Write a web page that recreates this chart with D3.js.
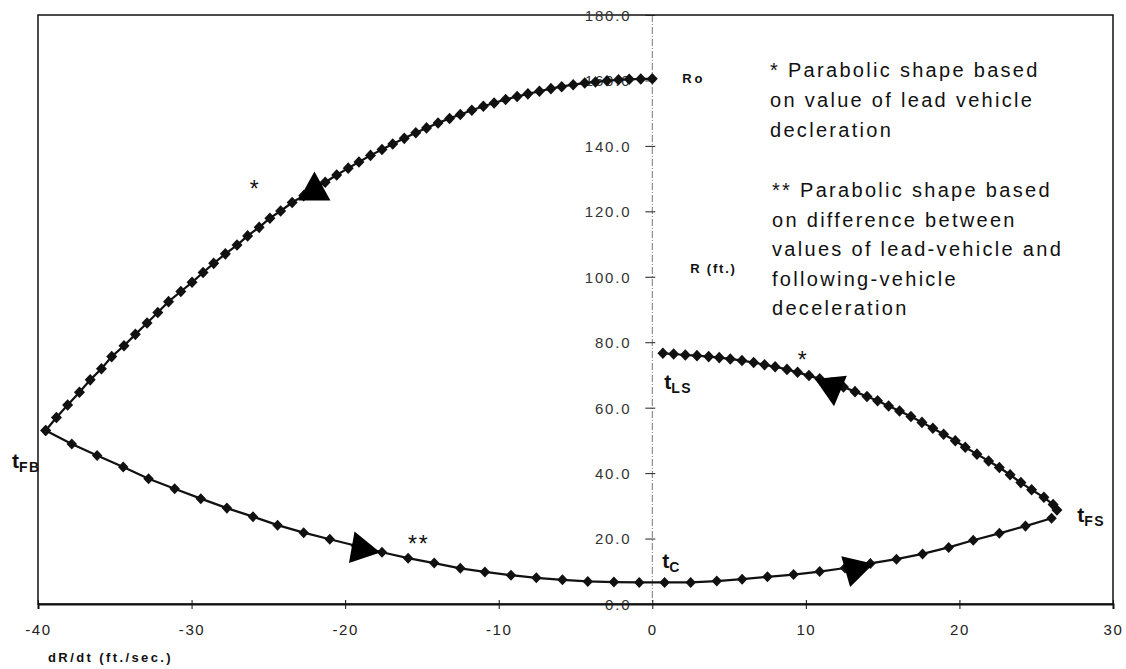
<!DOCTYPE html>
<html>
<head>
<meta charset="utf-8">
<script src="https://cdn.jsdelivr.net/npm/d3@7"></script>
<style>
  html, body { margin: 0; padding: 0; background: #fff; }
  svg { display: block; font-family: "Liberation Sans", Arial, sans-serif; }
</style>
</head>
<body>
<svg id="chart" width="1126" height="669"></svg>
<script>
// ---------- data ----------
const xTicks = [-40, -30, -20, -10, 0, 10, 20, 30];
const yTicks = [0, 20, 40, 60, 80, 100, 120, 140, 160, 180];

// "*" branch: lead-vehicle deceleration, from t_FB up to Ro
const upperLeftX = [-39.5, -38.8, -38.07, -37.3, -36.6, -35.87, -35.2, -34.4, -33.66, -32.9,
  -32.2, -31.5, -30.7, -29.97, -29.25, -28.56, -27.8, -27.04, -26.35, -25.6,
  -24.9, -24.2, -23.45, -22.7, -22.0, -21.3, -20.55, -19.8, -19.1, -18.35,
  -17.6, -16.9, -16.15, -15.4, -14.7, -13.95, -13.2, -12.5, -11.75, -11.0,
  -10.3, -9.55, -8.8, -8.1, -7.35, -6.6, -5.9, -5.15, -4.4, -3.7,
  -2.95, -2.2, -1.5, -0.75, 0];
const upperLeftR = [53.0, 57.0, 60.8, 64.7, 68.5, 71.9, 75.6, 78.9, 82.4, 85.9,
  89.1, 92.4, 95.5, 98.3, 101.3, 104.1, 107.0, 109.7, 112.5, 115.1,
  117.9, 120.1, 122.7, 124.8, 126.8, 128.9, 131.1, 133.2, 135.1, 137.1,
  138.9, 140.6, 142.3, 144.0, 145.5, 147.0, 148.4, 149.6, 150.9, 152.1,
  153.1, 154.2, 155.1, 155.9, 156.7, 157.5, 158.1, 158.7, 159.2, 159.55,
  159.9, 160.2, 160.35, 160.45, 160.5];

// "**" branch: difference of decelerations, t_FB -> t_C -> t_FS
const lowerX = [-39.5, -37.8, -36.15, -34.45, -32.8, -31.1, -29.4, -27.7, -26.0, -24.4,
  -22.7, -21.0, -19.3, -17.6, -15.9, -14.2, -12.5, -10.9, -9.2, -7.55,
  -5.85, -4.2, -2.5, -0.85, 0.8, 2.5, 4.2, 5.85, 7.5, 9.2,
  10.9, 12.55, 14.2, 15.9, 17.6, 19.3, 20.9, 22.6, 24.3, 26.0];
const lowerR = [53.0, 48.9, 45.4, 41.9, 38.3, 35.2, 32.2, 29.3, 26.7, 24.1,
  21.8, 19.8, 17.8, 15.8, 14.0, 12.5, 10.9, 9.8, 8.8, 8.0,
  7.4, 6.9, 6.7, 6.6, 6.6, 6.6, 7.0, 7.6, 8.3, 9.0,
  9.9, 11.0, 12.4, 13.7, 15.3, 17.3, 19.5, 21.6, 23.8, 26.2];

// "*" branch: lead-vehicle deceleration, t_LS to t_FS
const upperRightX = [0.69, 1.39, 2.15, 2.91, 3.67, 4.36, 5.08, 5.84, 6.6, 7.31,
  8.0, 8.77, 9.46, 10.2, 10.9, 11.7, 12.45, 13.2, 13.98, 14.67,
  15.39, 16.1, 16.84, 17.56, 18.27, 18.97, 19.73, 20.38, 21.14, 21.9,
  22.6, 23.3, 24.0, 24.7, 25.5, 26.1, 26.35];
const upperRightR = [76.6, 76.4, 76.1, 75.9, 75.6, 75.3, 74.9, 74.4, 73.8, 73.1,
  72.5, 71.7, 70.8, 69.8, 68.8, 67.6, 66.3, 64.9, 63.4, 62.1,
  60.5, 59.0, 57.3, 55.5, 53.7, 51.9, 49.9, 47.9, 45.8, 43.7,
  41.7, 39.5, 37.1, 34.9, 32.6, 30.4, 28.7];

// direction arrows (position in data units)
const arrowX = [-22.0, -18.95, 13.2, 11.7];
const arrowR = [126.3, 16.8, 10.7, 66.3];

// point labels (t symbols) in data units
const pointLabelMain = ["t", "t", "t", "t"];
const pointLabelSub = ["FB", "LS", "C", "FS"];
const pointLabelX = [-41.7, 0.78, 0.65, 27.67];
const pointLabelR = [41.6, 65.7, 11.0, 25.1];

const starText = ["*", "**", "*"];
const starX = [-25.85, -15.2, 9.83];
const starR = [124.5, 16.0, 72.0];

const noteLines1 = ["* Parabolic shape based", "on value of lead vehicle", "decleration"];
const noteLines2 = ["** Parabolic shape based", "on difference between", "values of lead-vehicle and", "following-vehicle", "deceleration"];

// ---------- styles / layout ----------
const arrowAngle = [-90, 10, -16, 84];
const W = 1126, H = 669;
const plot = { left: 38, right: 1113, top: 15, bottom: 604 };

const svg = d3.select("#chart");
svg.append("rect").attr("width", W).attr("height", H).attr("fill", "#fff");

const x = d3.scaleLinear().domain([-40, 30]).range([plot.left, plot.right]);
const y = d3.scaleLinear().domain([0, 180]).range([plot.bottom, plot.top]);

// frame
svg.append("rect")
  .attr("x", plot.left).attr("y", plot.top)
  .attr("width", plot.right - plot.left).attr("height", plot.bottom - plot.top)
  .attr("fill", "none").attr("stroke", "#111").attr("stroke-width", 1.5);

// zero vertical line (y axis)
svg.append("line")
  .attr("x1", x(0)).attr("x2", x(0)).attr("y1", plot.top).attr("y2", plot.bottom)
  .attr("stroke", "#777").attr("stroke-width", 1).attr("stroke-dasharray", "7,2,1,2");

// y axis
const yAxis = svg.append("g").attr("transform", `translate(${x(0)},0)`)
  .call(d3.axisLeft(y).tickValues(yTicks).tickFormat(d3.format(".1f")).tickSize(6).tickPadding(0));
yAxis.select(".domain").remove();
yAxis.selectAll(".tick line").attr("x1", -7).attr("x2", 3).attr("stroke", "#222");
yAxis.selectAll(".tick text")
  .attr("x", -21).attr("dy", "0.36em")
  .attr("font-size", 15).attr("fill", "#333").attr("letter-spacing", "1.8px")
  .attr("font-family", "Liberation Sans, Arial, sans-serif");

// x axis
const xAxis = svg.append("g").attr("transform", `translate(0,${y(0)})`)
  .call(d3.axisBottom(x).tickValues(xTicks).tickFormat(d => String(d)).tickSize(5));
xAxis.select(".domain").attr("stroke", "#111").attr("stroke-width", 2);
xAxis.selectAll(".tick line").attr("y1", -4).attr("y2", 5).attr("stroke", "#111");
xAxis.selectAll(".tick text")
  .attr("y", 20).attr("dy", "0.71em")
  .attr("font-size", 15).attr("fill", "#222").attr("letter-spacing", "1.6px")
  .attr("font-family", "Liberation Sans, Arial, sans-serif");

// curves
const diamond = {
  draw(ctx, size) {
    const r = Math.sqrt(size) / 2;
    ctx.moveTo(0, -r * 1.05); ctx.lineTo(r, 0); ctx.lineTo(0, r * 1.05); ctx.lineTo(-r, 0); ctx.closePath();
  }
};
const line = d3.line().x(d => x(d[0])).y(d => y(d[1]));
const series = [
  { xs: upperLeftX, rs: upperLeftR, ms: 121 },
  { xs: lowerX, rs: lowerR, ms: 110 },
  { xs: upperRightX, rs: upperRightR, ms: 121 }
];
series.forEach(s => {
  const pts = s.xs.map((v, i) => [v, s.rs[i]]);
  svg.append("path").datum(pts).attr("d", line)
    .attr("fill", "none").attr("stroke", "#111").attr("stroke-width", 2.2);
  svg.append("g").selectAll("path").data(pts).join("path")
    .attr("transform", d => `translate(${x(d[0])},${y(d[1])})`)
    .attr("d", d3.symbol().type(diamond).size(s.ms))
    .attr("fill", "#111");
});

// arrows
const tri = (h, b) => `M${2 * h / 3},0L${-h / 3},${-b / 2}L${-h / 3},${b / 2}Z`;
svg.append("g").selectAll("path").data(arrowX).join("path")
  .attr("transform", (d, i) => `translate(${x(d)},${y(arrowR[i])}) rotate(${arrowAngle[i]})`)
  .attr("d", tri(29, 32))
  .attr("fill", "#000");

// star marks
svg.append("g").selectAll("text").data(starText).join("text")
  .attr("x", (d, i) => x(starX[i])).attr("y", (d, i) => y(starR[i]))
  .attr("text-anchor", "middle").attr("font-size", 23).attr("fill", "#111")
  .attr("letter-spacing", "2px")
  .text(d => d);

// t labels
const tl = svg.append("g").selectAll("text").data(pointLabelMain).join("text")
  .attr("x", (d, i) => x(pointLabelX[i])).attr("y", (d, i) => y(pointLabelR[i]))
  .attr("font-size", 21).attr("font-weight", "bold").attr("fill", "#111");
tl.append("tspan").text(d => d);
tl.append("tspan").attr("dy", 4).attr("font-size", 14).attr("letter-spacing", "1.5px")
  .text((d, i) => pointLabelSub[i]);

// axis titles / labels
svg.append("text").attr("x", x(1.95)).attr("y", y(159.2))
  .attr("font-size", 13).attr("font-weight", "bold").attr("letter-spacing", "3px").attr("fill", "#111")
  .text("Ro");
svg.append("text").attr("x", x(2.47)).attr("y", y(101.2))
  .attr("font-size", 13).attr("font-weight", "bold").attr("letter-spacing", "1.8px").attr("fill", "#111")
  .text("R (ft.)");
svg.append("text").attr("x", 48).attr("y", 662)
  .attr("font-size", 13).attr("font-weight", "bold").attr("letter-spacing", "2.4px").attr("fill", "#111")
  .text("dR/dt (ft./sec.)");

// notes
const notes = svg.append("g").attr("font-size", 20).attr("fill", "#111").attr("letter-spacing", "2.3px");
notes.selectAll("text.n1").data(noteLines1).join("text").attr("class", "n1")
  .attr("x", 770).attr("y", (d, i) => 77 + i * 30).text(d => d);
notes.selectAll("text.n2").data(noteLines2).join("text").attr("class", "n2")
  .attr("x", 772).attr("y", (d, i) => 197 + i * 29.5).text(d => d);
</script>
</body>
</html>
